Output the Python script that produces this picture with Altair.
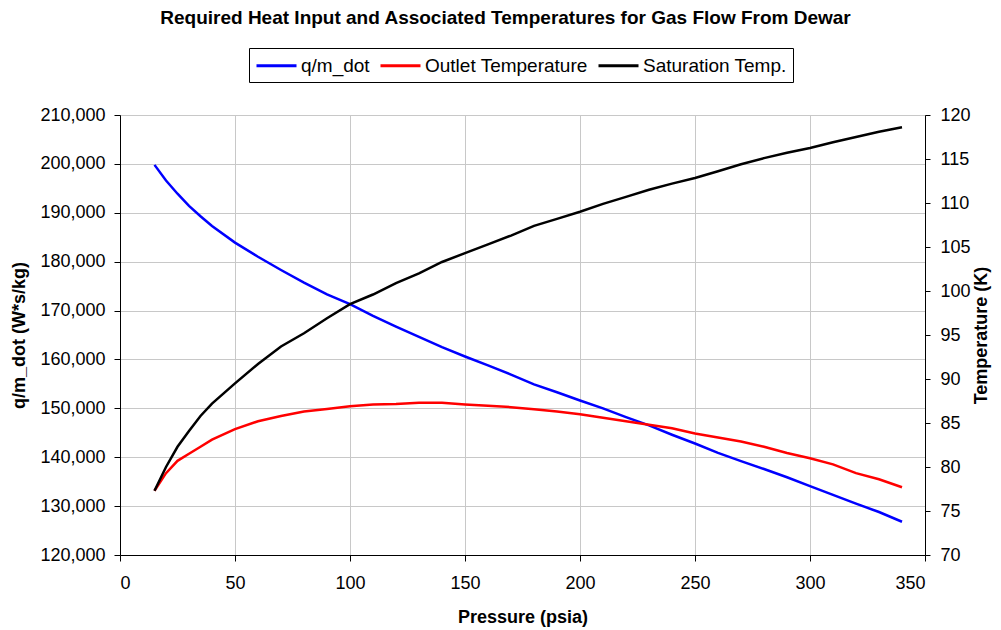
import altair as alt
import pandas as pd

# Data
pressure = [15, 20, 25, 30, 35, 40, 50, 60, 70, 80, 90, 100, 110, 120, 130, 140,
            150, 160, 170, 180, 190, 200, 210, 220, 230, 240, 250, 260, 270, 280,
            290, 300, 310, 320, 330, 340]
q_m_dot = [199800, 196600, 193900, 191400, 189300, 187300, 183900, 181000, 178300,
           175700, 173300, 171300, 168900, 166700, 164600, 162500, 160600, 158800,
           156900, 154900, 153300, 151600, 150000, 148200, 146500, 144600, 142800,
           140900, 139200, 137600, 135900, 134100, 132300, 130500, 128800, 126800]
outlet_temp = [77.3, 79.3, 80.7, 81.5, 82.3, 83.1, 84.3, 85.2, 85.8, 86.3, 86.6, 86.9,
               87.1, 87.15, 87.3, 87.3, 87.1, 86.95, 86.8, 86.55, 86.3, 86.0, 85.6,
               85.2, 84.8, 84.4, 83.8, 83.35, 82.9, 82.3, 81.6, 81.0, 80.3, 79.3,
               78.6, 77.7]
sat_temp = [77.3, 80.0, 82.3, 84.1, 85.8, 87.2, 89.5, 91.7, 93.7, 95.2, 96.9, 98.5,
            99.6, 100.9, 102.0, 103.3, 104.3, 105.3, 106.3, 107.4, 108.2, 109.0,
            109.9, 110.7, 111.5, 112.2, 112.85, 113.6, 114.4, 115.1, 115.7, 116.25,
            116.9, 117.5, 118.1, 118.6]

series_names = ["q/m_dot", "Outlet Temperature", "Saturation Temp."]
series_colors = ["#0000ff", "#ff0000", "#000000"]

rows = []
for name, vals in zip(series_names, [q_m_dot, outlet_temp, sat_temp]):
    for p, v in zip(pressure, vals):
        rows.append({"pressure": p, "value": v, "series": name})
df = pd.DataFrame(rows)

FONT = "Liberation Sans"

color = alt.Color(
    "series:N",
    scale=alt.Scale(domain=series_names, range=series_colors),
    legend=alt.Legend(
        title=None, orient="none", direction="horizontal",
        legendX=129, legendY=-67,
        symbolType="M-1,0H3", symbolSize=400, symbolStrokeWidth=3,
        labelFontSize=19, labelFont=FONT, labelColor="#000",
        labelOffset=23, columnPadding=4, padding=6,
        strokeColor="#000", fillColor="#fff", labelLimit=400,
    ),
)

x_enc = alt.X(
    "pressure:Q",
    scale=alt.Scale(domain=[0, 350], nice=False),
    axis=alt.Axis(values=list(range(0, 351, 50)), title="Pressure (psia)",
                  tickSize=6, labelPadding=13, titlePadding=16, grid=True),
)

left = alt.Chart(df).transform_filter(
    alt.datum.series == "q/m_dot"
).mark_line(strokeWidth=2.5).encode(
    x=x_enc,
    y=alt.Y("value:Q",
            scale=alt.Scale(domain=[120000, 210000], nice=False, zero=False),
            axis=alt.Axis(values=list(range(120000, 210001, 10000)),
                          labelExpr="format(datum.value, ',')",
                          title="q/m_dot (W*s/kg)", tickSize=6, labelPadding=9,
                          titlePadding=11, grid=True)),
    color=color,
)

right = alt.Chart(df).transform_filter(
    alt.datum.series != "q/m_dot"
).mark_line(strokeWidth=2.5).encode(
    x=x_enc,
    y=alt.Y("value:Q",
            scale=alt.Scale(domain=[70, 120], nice=False, zero=False),
            axis=alt.Axis(orient="right", values=list(range(70, 121, 5)),
                          labelExpr="format(datum.value, 'd')",
                          title="Temperature (K)", titleAngle=270,
                          titleBaseline="top", tickSize=5,
                          labelPadding=10, titlePadding=2, grid=False)),
    color=color,
)

chart = alt.layer(left, right).resolve_scale(y="independent").properties(
    width=805, height=440,
    autosize=alt.AutoSizeParams(type="none"),
    padding={"left": 112, "top": 107, "right": 68, "bottom": 72},
    title=alt.TitleParams(
        "Required Heat Input and Associated Temperatures for Gas Flow From Dewar",
        font=FONT, fontSize=19, fontWeight="bold", color="#000", offset=20, dx=-17,
    ),
).configure_axis(
    labelFont=FONT, titleFont=FONT, labelFontSize=18, titleFontSize=18,
    labelColor="#000", titleColor="#000", titleFontWeight="bold",
    domainColor="#000", tickColor="#000", gridColor="#c8c8c8",
).configure_view(stroke="#8c8c8c")

chart.save("out.html", embed_options={"renderer": "svg", "actions": False})
